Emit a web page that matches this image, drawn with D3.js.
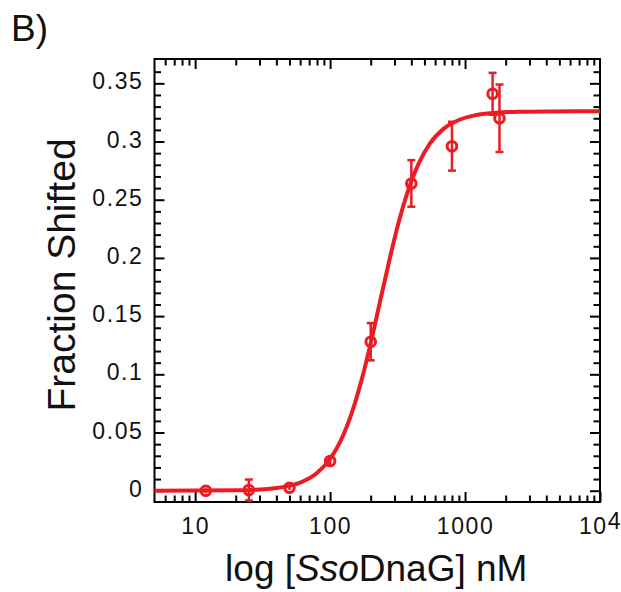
<!DOCTYPE html>
<html>
<head>
<meta charset="utf-8">
<script src="https://cdn.jsdelivr.net/npm/d3@7"></script>
<style>
  body { margin: 0; background: #fff; }
  svg { display: block; font-family: "Liberation Sans", Arial, sans-serif; }
  .tick text { font-family: "Liberation Sans", Arial, sans-serif; font-size: 23px; letter-spacing: 1.6px; fill: #111; }
  .axis path { display: none; }
</style>
</head>
<body>
<svg width="621" height="592"></svg>
<script>
// measured points
const conc = [12, 25, 50, 100, 200, 400, 800, 1600, 1800]
const frac = [0, 0.0006, 0.0026, 0.0255, 0.128, 0.264, 0.296, 0.341, 0.320]
const err  = [0.002, 0.009, 0.002, 0.004, 0.016, 0.020, 0.021, 0.018, 0.029]

// fitted curve
const fitConc = [5, 20, 30, 40, 50, 60, 80, 100, 120, 150, 175, 200, 235, 275, 320, 380, 450, 550, 700, 900, 1200, 1700, 2500, 4000, 10000]
const fitFrac = [0, 0.0003, 0.001, 0.0023, 0.0042, 0.007, 0.0152, 0.0273, 0.043, 0.0722, 0.0993, 0.1268, 0.163, 0.198, 0.2293, 0.2585, 0.2804, 0.2984, 0.3113, 0.3185, 0.3227, 0.3247, 0.3256, 0.3259, 0.326]

const xMajor = [10, 100, 1000, 10000]
const xMinor = [6, 7, 8, 9, 20, 30, 40, 50, 60, 70, 80, 90, 200, 300, 400, 500, 600, 700, 800, 900, 2000, 3000, 4000, 5000, 6000, 7000, 8000, 9000]
const yMajor = [0, 0.05, 0.1, 0.15, 0.2, 0.25, 0.3, 0.35]
const yMinor = d3.range(0, 37).map(i => i / 100).filter(v => Math.round(v * 100) % 5 !== 0)

const red = '#ec1c24'
const plotL = 154.5, plotR = 600, plotT = 59, plotB = 502

const svg = d3.select('svg')

const x = d3.scaleLog().domain([5, 10000]).range([plotL, plotR])
const y = d3.scaleLinear().domain([-0.0097, 0.3709]).range([plotB, plotT])

const yFmt = d => String(+d.toFixed(2))

const styleTicks = g => g.selectAll('.tick line').attr('stroke', '#000').attr('stroke-width', 2)

// bottom axis
svg.append('g').attr('class', 'axis')
  .attr('transform', `translate(0,${plotB})`)
  .call(d3.axisBottom(x).tickValues(xMinor).tickSize(-6.5).tickFormat(''))
  .call(styleTicks)
const xb = svg.append('g').attr('class', 'axis')
  .attr('transform', `translate(0,${plotB})`)
  .call(d3.axisBottom(x).tickValues(xMajor).tickSize(-10).tickPadding(16)
    .tickFormat(d => d === 10000 ? '' : String(d)))
  .call(styleTicks)
xb.selectAll('.tick text').filter(d => d === 10000)
  .each(function() {
    const t = d3.select(this)
    t.append('tspan').text('10')
    t.append('tspan').attr('dy', -5).text('4')
  })

// top axis
svg.append('g').attr('class', 'axis')
  .attr('transform', `translate(0,${plotT})`)
  .call(d3.axisTop(x).tickValues(xMinor).tickSize(-6.5).tickFormat(''))
  .call(styleTicks)
svg.append('g').attr('class', 'axis')
  .attr('transform', `translate(0,${plotT})`)
  .call(d3.axisTop(x).tickValues(xMajor.slice(0, 3)).tickSize(-10).tickFormat(''))
  .call(styleTicks)

// left axis
svg.append('g').attr('class', 'axis')
  .attr('transform', `translate(${plotL},0)`)
  .call(d3.axisLeft(y).tickValues(yMinor).tickSize(-6.5).tickFormat(''))
  .call(styleTicks)
svg.append('g').attr('class', 'axis')
  .attr('transform', `translate(${plotL},0)`)
  .call(d3.axisLeft(y).tickValues(yMajor).tickSize(-10).tickPadding(11).tickFormat(yFmt))
  .call(styleTicks)
  .selectAll('.tick text').attr('dy', '0.24em')

// right axis
svg.append('g').attr('class', 'axis')
  .attr('transform', `translate(${plotR},0)`)
  .call(d3.axisRight(y).tickValues(yMinor).tickSize(-6.5).tickFormat(''))
  .call(styleTicks)
svg.append('g').attr('class', 'axis')
  .attr('transform', `translate(${plotR},0)`)
  .call(d3.axisRight(y).tickValues(yMajor).tickSize(-10).tickFormat(''))
  .call(styleTicks)

// frame
svg.append('rect')
  .attr('x', plotL).attr('y', plotT)
  .attr('width', plotR - plotL).attr('height', plotB - plotT)
  .attr('fill', 'none').attr('stroke', '#000').attr('stroke-width', 2)

// fit curve
const line = d3.line()
  .x((d, i) => x(fitConc[i]))
  .y(d => y(d))
  .curve(d3.curveMonotoneX)

svg.append('path')
  .datum(fitFrac)
  .attr('d', line)
  .attr('fill', 'none')
  .attr('stroke', red)
  .attr('stroke-width', 4)

// error bars + points
const pts = svg.append('g')
  .selectAll('g')
  .data(conc)
  .enter()
  .append('g')
  .attr('stroke', red)
  .attr('fill', 'none')

pts.append('line')
  .attr('x1', d => x(d)).attr('x2', d => x(d))
  .attr('y1', (d, i) => y(frac[i] - err[i]))
  .attr('y2', (d, i) => y(frac[i] + err[i]))
  .attr('stroke-width', 2.5)

pts.append('line')
  .attr('x1', d => x(d) - 4).attr('x2', d => x(d) + 4)
  .attr('y1', (d, i) => y(frac[i] + err[i]))
  .attr('y2', (d, i) => y(frac[i] + err[i]))
  .attr('stroke-width', 2.5)
  .filter((d, i) => err[i] < 0.005).remove()

pts.append('line')
  .attr('x1', d => x(d) - 4).attr('x2', d => x(d) + 4)
  .attr('y1', (d, i) => y(frac[i] - err[i]))
  .attr('y2', (d, i) => y(frac[i] - err[i]))
  .attr('stroke-width', 2.5)
  .filter((d, i) => err[i] < 0.005).remove()

pts.append('circle')
  .attr('cx', d => x(d))
  .attr('cy', (d, i) => y(frac[i]))
  .attr('r', 4.8)
  .attr('stroke-width', 3)

// labels
svg.append('text')
  .attr('x', 11).attr('y', 41)
  .attr('font-size', 37)
  .attr('fill', '#111')
  .text('B)')

svg.append('text')
  .attr('transform', 'translate(75,275) rotate(-90)')
  .attr('text-anchor', 'middle')
  .attr('font-size', 39)
  .attr('fill', '#111')
  .text('Fraction Shifted')

const xt = svg.append('text')
  .attr('x', (plotL + plotR) / 2 - 1).attr('y', 581)
  .attr('text-anchor', 'middle')
  .attr('font-size', 37)
  .attr('fill', '#111')
xt.append('tspan').text('log [')
xt.append('tspan').attr('font-style', 'italic').text('Sso')
xt.append('tspan').text('DnaG] nM')
</script>
</body>
</html>
